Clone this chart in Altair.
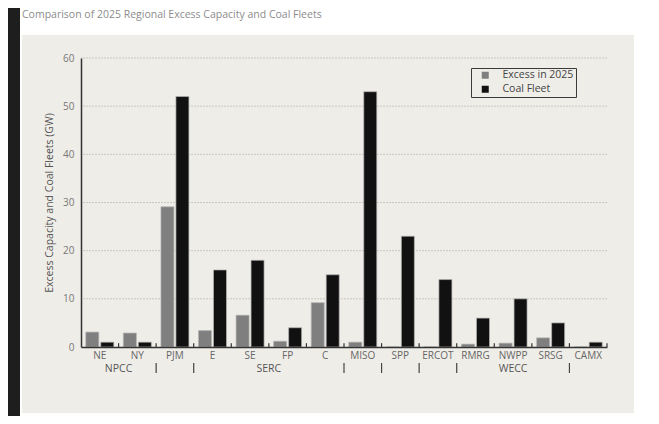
import altair as alt
import pandas as pd

# ---- data ----
regions = ["NE", "NY", "PJM", "E", "SE", "FP", "C", "MISO", "SPP", "ERCOT",
           "RMRG", "NWPP", "SRSG", "CAMX"]
excess_2025 = [3.1, 2.9, 29.1, 3.4, 6.6, 1.2, 9.2, 1.0, 0, 0, 0.6, 0.8, 1.9, 0]
coal_fleet = [1.0, 1.0, 52, 16, 18, 4, 15, 53, 23, 14, 6, 10, 5, 1.0]
series = ["Excess in 2025", "Coal Fleet"]
series_colors = ["#7f7f7f", "#111111"]
y_ticks = [0, 10, 20, 30, 40, 50, 60]
grid_values = [10, 20, 30, 40, 50, 60]

group_end_labels = ["NPCC", "SERC"]
group_end_anchor = ["NE", "SE"]
group_mid_labels = ["WECC"]
group_mid_anchor = ["NWPP"]
separators_after = ["NY", "PJM", "C", "MISO", "SPP", "ERCOT", "SRSG"]
title_text = "Comparison of 2025 Regional Excess Capacity and Coal Fleets"

FONT = "Open Sans"
BEIGE = "#efede8"
PH = 289  # plot height

bars_df = pd.DataFrame({
    "region": regions * 2,
    "series": [series[0]] * len(regions) + [series[1]] * len(regions),
    "value": excess_2025 + coal_fleet,
})
grid_df = pd.DataFrame({"g": grid_values})
ticks_df = pd.DataFrame({"region": regions})
gend_df = pd.DataFrame({"region": group_end_anchor, "label": group_end_labels})
gmid_df = pd.DataFrame({"region": group_mid_anchor, "label": group_mid_labels})
sep_df = pd.DataFrame({"region": separators_after})
one = pd.DataFrame({"k": [0]})

xscale = alt.Scale(domain=regions, paddingInner=0, paddingOuter=0)
yscale = alt.Scale(domain=[0, 60], nice=False)


def frame_rect(color, x, x2, y, y2):
    return alt.Chart(one).mark_rect(color=color, clip=False).encode(
        x=alt.value(x), x2=alt.value(x2), y=alt.value(y), y2=alt.value(y2))


# page frame around the beige panel (chart background is the beige panel)
frames = [
    frame_rect("white", -61, 575, -52, -23),   # top white band
    frame_rect("white", -61, 575, 355, 362),   # bottom white band
    frame_rect("white", 553, 575, -52, 362),   # right white band
    frame_rect("white", -61, -59, -52, 362),   # thin left white
    frame_rect("#1e1e1e", -75, -61, -52, 362), # left dark strip
]

title_mark = alt.Chart(one).mark_text(
    text=title_text, align="left", baseline="middle", font=FONT, fontSize=10.5,
    color="#8c8c8c", clip=False).encode(x=alt.value(-59), y=alt.value(-43))

grid = alt.Chart(grid_df).mark_rule(color="#c9c7c1", strokeDash=[2, 1], strokeWidth=1).encode(
    y=alt.Y("g:Q", scale=yscale))

bars = alt.Chart(bars_df).mark_bar(stroke="#b3b3b3", strokeWidth=0.7).encode(
    x=alt.X("region:N", sort=regions, scale=xscale, title=None,
            axis=alt.Axis(labelAngle=0, ticks=False, labelFont=FONT, labelFontSize=10,
                          labelColor="#666666", labelPadding=3, domainColor="#333333",
                          domainWidth=1.5, zindex=1, grid=False)),
    xOffset=alt.XOffset("series:N", sort=series,
                        scale=alt.Scale(domain=series, paddingInner=0.133, paddingOuter=0.32)),
    y=alt.Y("value:Q", scale=yscale, title="Excess Capacity and  Coal Fleets (GW)",
            axis=alt.Axis(values=y_ticks, ticks=False, grid=False, labelFont=FONT,
                          labelFontSize=10, labelColor="#777777", labelPadding=7,
                          domainColor="#333333", domainWidth=1.5, titleFont=FONT,
                          titleFontSize=10.5, titleFontWeight="normal", titleColor="#555555",
                          titlePadding=8, zindex=1)),
    color=alt.Color("series:N", sort=series,
                    scale=alt.Scale(domain=series, range=series_colors),
                    legend=alt.Legend(title=None, orient="none", legendX=390, legendY=10,
                                      direction="vertical", fillColor=BEIGE,
                                      strokeColor="#3a3a3a", padding=2, symbolOffset=7,
                                      symbolType="square", symbolSize=49,
                                      symbolStrokeWidth=0, labelFont=FONT, labelOffset=12,
                                      labelFontSize=10.5, labelColor="#444444", rowPadding=3)),
)

tick_marks = alt.Chart(ticks_df).mark_rule(color="#333333", strokeWidth=1.2).encode(
    x=alt.X("region:N", bandPosition=1, scale=xscale),
    y=alt.datum(0), y2=alt.datum(0.8))

txt_style = dict(font=FONT, fontSize=10.5, color="#555555", baseline="middle", dy=22)
group_end = alt.Chart(gend_df).mark_text(**txt_style).encode(
    x=alt.X("region:N", bandPosition=1, scale=xscale), y=alt.datum(0), text="label:N")
group_mid = alt.Chart(gmid_df).mark_text(**txt_style).encode(
    x=alt.X("region:N", bandPosition=0.5, scale=xscale), y=alt.datum(0), text="label:N")
seps = alt.Chart(sep_df).mark_rule(color="#444444", strokeWidth=1.2).encode(
    x=alt.X("region:N", bandPosition=1, scale=xscale),
    y=alt.value(PH + 16), y2=alt.value(PH + 26))

chart = alt.layer(*frames, title_mark, grid, bars, tick_marks, group_end, group_mid, seps).properties(
    width=526, height=PH,
    autosize=alt.AutoSizeParams(type="none"),
    padding={"left": 73, "top": 50, "right": 44, "bottom": 69},
    background=BEIGE,
).configure_view(stroke=None)

chart.save("out.html", embed_options={"renderer": "svg", "actions": False})
